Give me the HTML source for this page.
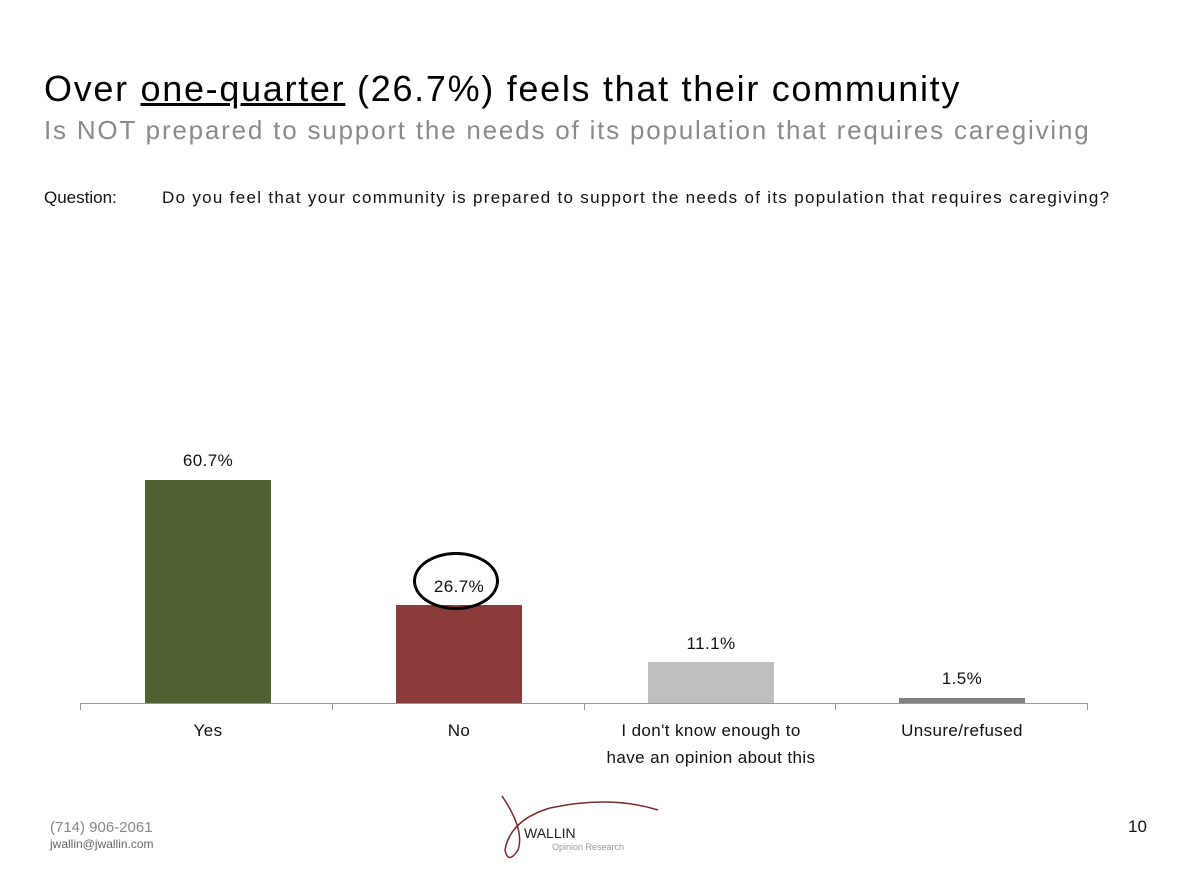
<!DOCTYPE html>
<html><head><meta charset="utf-8"><style>
body{margin:0;width:1182px;height:892px;background:#fff;position:relative;font-family:"Liberation Sans",sans-serif;overflow:hidden}
.a{position:absolute;white-space:nowrap}
.bar{position:absolute}
.lbl{position:absolute;font-size:17px;color:#111;text-align:center;width:200px;letter-spacing:0.4px}
</style></head><body>
<div class="a" style="left:44px;top:68px;font-size:36px;color:#000;letter-spacing:1.7px">Over <u>one-quarter</u> (26.7%) feels that their community</div>
<div class="a" style="left:44px;top:115px;font-size:26px;color:#8a8a8a;letter-spacing:1.8px">Is NOT prepared to support the needs of its population that requires caregiving</div>
<div class="a" style="left:44px;top:188px;font-size:17px;color:#111">Question:</div>
<div class="a" style="left:162px;top:188px;font-size:17px;color:#111;letter-spacing:1.3px">Do you feel that your community is prepared to support the needs of its population that requires caregiving?</div>

<div class="bar" style="left:145px;top:480px;width:126px;height:223px;background:#4f6130"></div>
<div class="bar" style="left:396px;top:605px;width:126px;height:98px;background:#8a3b3a"></div>
<div class="bar" style="left:648px;top:662px;width:126px;height:41px;background:#bfbfbf"></div>
<div class="bar" style="left:899px;top:698px;width:126px;height:5px;background:#808080"></div>

<div class="bar" style="left:80px;top:703px;width:1007px;height:1px;background:#999"></div>
<div class="bar" style="left:80px;top:703px;width:1px;height:7px;background:#999"></div>
<div class="bar" style="left:332px;top:703px;width:1px;height:7px;background:#999"></div>
<div class="bar" style="left:584px;top:703px;width:1px;height:7px;background:#999"></div>
<div class="bar" style="left:835px;top:703px;width:1px;height:7px;background:#999"></div>
<div class="bar" style="left:1087px;top:703px;width:1px;height:7px;background:#999"></div>

<div class="lbl" style="left:108px;top:451px">60.7%</div>
<div class="lbl" style="left:359px;top:577px">26.7%</div>
<div class="lbl" style="left:611px;top:634px">11.1%</div>
<div class="lbl" style="left:862px;top:669px">1.5%</div>
<div class="bar" style="left:413px;top:552px;width:86px;height:58px;border:3px solid #000;border-radius:50%;box-sizing:border-box"></div>

<div class="lbl" style="left:108px;top:721px">Yes</div>
<div class="lbl" style="left:359px;top:721px">No</div>
<div class="lbl" style="left:561px;top:721px;width:300px;line-height:20px">I don't know enough to<br><span style="display:inline-block;margin-top:7px">have an opinion about this</span></div>
<div class="lbl" style="left:862px;top:721px">Unsure/refused</div>

<div class="a" style="left:50px;top:819px;font-size:15px;color:#888">(714) 906-2061</div>
<div class="a" style="left:50px;top:837px;font-size:12px;color:#666">jwallin@jwallin.com</div>
<svg class="a" style="left:490px;top:790px" width="180" height="75">
<path d="M12 6 Q35 40 28 60 Q18 75 15 60 Q20 30 60 18 Q120 5 168 20" fill="none" stroke="#7a2a2a" stroke-width="1.5"/>
</svg>
<div class="a" style="left:524px;top:825px;font-size:14px;color:#222">WALLIN</div>
<div class="a" style="left:552px;top:842px;font-size:9px;color:#999">Opinion Research</div>
<div class="a" style="left:1128px;top:817px;font-size:17px;color:#111">10</div>
</body></html>
